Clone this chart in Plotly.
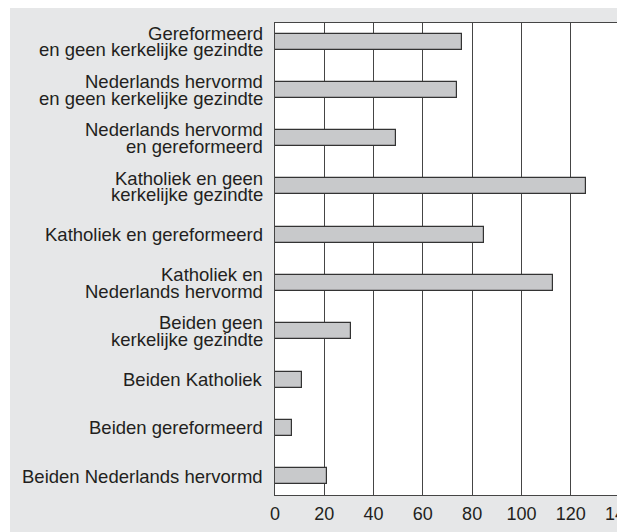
import plotly.graph_objects as go

categories = [
    "Gereformeerd\nen geen kerkelijke gezindte",
    "Nederlands hervormd\nen geen kerkelijke gezindte",
    "Nederlands hervormd\nen gereformeerd",
    "Katholiek en geen\nkerkelijke gezindte",
    "Katholiek en gereformeerd",
    "Katholiek en\nNederlands hervormd",
    "Beiden geen\nkerkelijke gezindte",
    "Beiden Katholiek",
    "Beiden gereformeerd",
    "Beiden Nederlands hervormd",
]
values = [76, 74, 49, 126, 85, 113, 31, 11, 7, 21]
x_ticks = [0, 20, 40, 60, 80, 100, 120, 140]

W, H = 625, 532
# page has an 8px body offset; margins compensate for it
ML, MR, MT, MB = 267, 13, 15, 45
FONT = "Liberation Sans, Arial, Helvetica, sans-serif"
TXT = "#231f20"
LAB_SIZE = 18.5

fig = go.Figure()
fig.add_trace(go.Bar(
    x=values, y=list(range(len(categories))), orientation="h",
    width=0.33,
    marker=dict(color="#c8c9cb", line=dict(color="#333333", width=1.2)),
    hoverinfo="x",
))

annotations = []
for i, lab in enumerate(categories):
    lines = lab.split("\n")
    n = len(lines)
    for j, ln in enumerate(lines):
        shift = ((n - 1) / 2 - j) * 16.7
        annotations.append(dict(
            x=0, xref="paper", y=i, yref="y", text=ln, showarrow=False,
            xanchor="right", yanchor="middle", xshift=-11, yshift=shift,
            borderpad=0,
            font=dict(family=FONT, size=LAB_SIZE, color=TXT),
        ))

px_w = W - ML - MR
shapes = [
    dict(type="rect", xref="paper", yref="paper", layer="below",
         x0=-ML / px_w - 0.01, x1=(2 - ML) / px_w, y0=-1, y1=2,
         fillcolor="white", line=dict(width=0)),
]

fig.update_layout(
    width=W, height=H,
    margin=dict(l=ML, r=MR, t=MT, b=MB, pad=0, autoexpand=False),
    paper_bgcolor="#e6e7e8",
    plot_bgcolor="white",
    showlegend=False,
    bargap=0,
    annotations=annotations,
    shapes=shapes,
    font=dict(family=FONT, size=18, color=TXT),
    xaxis=dict(
        range=[0, 140], tickvals=x_ticks, ticktext=[str(v) for v in x_ticks],
        showgrid=True, gridcolor="#454545", gridwidth=1.3,
        showline=True, linecolor="#454545", linewidth=1.3, mirror=True,
        ticks="", zeroline=False, fixedrange=True, ticklabelstandoff=2,
        ticklabeloverflow="allow", automargin=False,
        tickfont=dict(family=FONT, size=18, color=TXT),
    ),
    yaxis=dict(
        range=[9.39, -0.385], showticklabels=False, showgrid=False,
        showline=True, linecolor="#454545", linewidth=1.3, mirror=True,
        ticks="", zeroline=False, fixedrange=True, automargin=False,
    ),
)

fig.write_html("out.html")
